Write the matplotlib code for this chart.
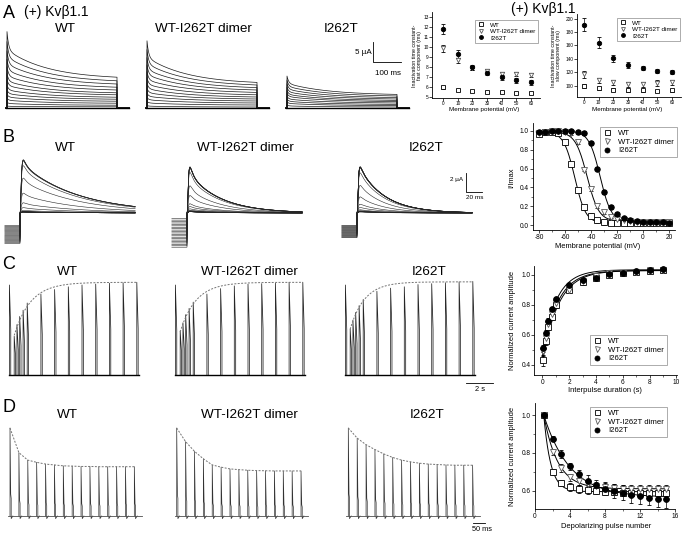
import numpy as np
import matplotlib
matplotlib.use('Agg')
import matplotlib.pyplot as plt
from matplotlib.ticker import MultipleLocator
from matplotlib.lines import Line2D

plt.rcParams['font.family'] = ['Liberation Sans', 'DejaVu Sans']
plt.rcParams['axes.unicode_minus'] = False

W, H = 685, 535
names = ['WT', 'WT-I262T dimer', 'I262T']

# ---- A: inactivation time constants with Kvb1.1
a_volt = [0, 10, 20, 30, 40, 50, 60]
a_fast = {'WT': [6.0, 5.7, 5.6, 5.5, 5.5, 5.45, 5.45],
          'WT-I262T dimer': [9.9, 8.7, 7.9, 7.6, 7.3, 7.3, 7.2],
          'I262T': [11.8, 9.3, 8.0, 7.4, 7.0, 6.7, 6.5]}
a_fast_err = {'WT': [0.15, 0.1, 0.1, 0.1, 0.1, 0.1, 0.1],
              'WT-I262T dimer': [0.35, 0.25, 0.2, 0.2, 0.2, 0.2, 0.2],
              'I262T': [0.5, 0.4, 0.25, 0.2, 0.25, 0.25, 0.25]}
a_slow = {'WT': [99, 96, 94, 93, 93, 92, 93],
          'WT-I262T dimer': [117, 108, 105, 102, 102, 104, 105],
          'I262T': [191, 164, 141, 131, 126, 122, 120]}
a_slow_err = {'WT': [3, 2, 2, 2, 2, 2, 2],
              'WT-I262T dimer': [5, 4, 4, 4, 4, 4, 4],
              'I262T': [10, 8, 5, 4, 3, 3, 3]}
# A traces: peak and end-of-pulse current for each sweep (uA)
a_peak = {'WT': [19.1, 16.6, 14.3, 12.2, 10.3, 8.6, 7.1, 5.7, 4.5, 3.4, 2.4, 1.4, 0.5],
          'WT-I262T dimer': [16.8, 14.6, 12.6, 10.8, 9.1, 7.6, 6.2, 4.9, 3.7, 2.6, 1.6, 0.6],
          'I262T': [8.0, 7.0, 6.1, 5.2, 4.4, 3.7, 2.9, 2.2, 1.5, 0.7]}
a_end = {'WT': [7.7, 6.8, 6.0, 5.2, 4.5, 3.8, 3.3, 2.7, 2.2, 1.7, 1.2, 0.7, 0.3],
         'WT-I262T dimer': [6.4, 5.75, 5.1, 4.5, 3.9, 3.3, 2.75, 2.25, 1.75, 1.25, 0.75, 0.25],
         'I262T': [3.4, 3.0, 2.6, 2.25, 1.9, 1.6, 1.25, 0.9, 0.6, 0.25]}
a_pulse = 400  # ms

# ---- B: steady-state inactivation
b_volt = [-80, -75, -70, -65, -60, -55, -50, -45, -40, -35, -30,
          -25, -20, -15, -10, -5, 0, 5, 10, 15, 20]
b_avail = {'WT': [0.97, 0.99, 0.99, 0.98, 0.88, 0.65, 0.37, 0.19, 0.10, 0.05, 0.03,
                  0.02, 0.02, 0.02, 0.02, 0.02, 0.02, 0.02, 0.02, 0.02, 0.02],
           'WT-I262T dimer': [0.98, 0.99, 1.00, 1.00, 0.99, 0.98, 0.88, 0.59, 0.38, 0.20, 0.14,
                              0.09, 0.06, 0.05, 0.04, 0.03, 0.03, 0.03, 0.03, 0.03, 0.03],
           'I262T': [0.99, 0.99, 1.00, 1.00, 1.00, 1.00, 0.99, 0.98, 0.87, 0.60, 0.35,
                     0.19, 0.12, 0.07, 0.05, 0.04, 0.03, 0.03, 0.03, 0.03, 0.02]}
b_err = {'WT': 0.025, 'WT-I262T dimer': 0.02, 'I262T': 0.02}
b_fit = {'WT': (-52.5, 4.2, 0.99, 0.02),             # V1/2, k, top, bottom
         'WT-I262T dimer': (-43.0, 4.5, 0.99, 0.04),
         'I262T': (-33.0, 4.3, 1.00, 0.03)}
# B traces: transient amplitude (uA), prepulse leak at -80 / +20 mV (uA),
# kinetics (tau act, tau fast, tau slow, slow fraction) in ms
b_amp = {'WT': 5.65, 'WT-I262T dimer': 4.85, 'I262T': 4.85}
b_leak = {'WT': (-3.2, -1.3), 'WT-I262T dimer': (-3.6, -0.6), 'I262T': (-2.6, -1.3)}
b_kin = {'WT': (1.0, 4.0, 70, 0.7), 'WT-I262T dimer': (1.0, 4.0, 40, 0.6),
         'I262T': (1.0, 3.0, 32, 0.75)}

# ---- C: recovery from inactivation
c_dur = [0.05, 0.25, 0.45, 0.7, 1, 2, 3, 4, 5, 6, 7, 8, 9]
c_amp = {'WT': [0.43, 0.56, 0.65, 0.72, 0.80, 0.90, 0.95, 0.98, 1.00, 1.01, 1.02, 1.025, 1.03],
         'WT-I262T dimer': [0.49, 0.58, 0.67, 0.74, 0.81, 0.90, 0.96, 0.99, 1.01, 1.015, 1.02, 1.03, 1.03],
         'I262T': [0.51, 0.61, 0.695, 0.77, 0.84, 0.93, 0.965, 0.98, 1.005, 1.015, 1.025, 1.035, 1.04]}
c_err = {'WT': [0.035, 0.025, 0.02, 0.02, 0.02, 0.015, 0.015, 0.01, 0.01, 0.01, 0.01, 0.01, 0.01],
         'WT-I262T dimer': [0.03, 0.02, 0.02, 0.02, 0.02, 0.015, 0.01, 0.01, 0.01, 0.01, 0.01, 0.01, 0.01],
         'I262T': [0.025, 0.02, 0.02, 0.015, 0.015, 0.01, 0.01, 0.01, 0.01, 0.01, 0.01, 0.01, 0.01]}
c_fit = {'WT': (1.03, 0.44, 1.2), 'WT-I262T dimer': (1.03, 0.48, 1.15),
         'I262T': (1.035, 0.51, 1.05)}  # plateau, start, tau (s)
c_ref = -0.3  # s, conditioning pulse

# ---- D: cumulative inactivation
d_pulse = list(range(1, 16))
d_amp = {'WT': [1.0, 0.70, 0.64, 0.62, 0.61, 0.605, 0.60, 0.595, 0.595, 0.59, 0.59, 0.59, 0.59, 0.59, 0.59],
         'WT-I262T dimer': [1.0, 0.805, 0.72, 0.67, 0.65, 0.635, 0.625, 0.62, 0.615, 0.61, 0.61, 0.61, 0.61, 0.61, 0.61],
         'I262T': [1.0, 0.876, 0.793, 0.729, 0.687, 0.651, 0.628, 0.61, 0.598, 0.588, 0.575, 0.57, 0.563, 0.558, 0.554]}
d_err = {'WT': [0, 0.015, 0.015, 0.02, 0.02, 0.02, 0.02, 0.02, 0.02, 0.02, 0.02, 0.02, 0.02, 0.02, 0.02],
         'WT-I262T dimer': [0, 0.015, 0.02, 0.02, 0.02, 0.02, 0.02, 0.02, 0.02, 0.02, 0.02, 0.02, 0.02, 0.02, 0.02],
         'I262T': [0, 0.015, 0.02, 0.02, 0.025, 0.03, 0.03, 0.035, 0.035, 0.04, 0.04, 0.04, 0.04, 0.045, 0.045]}
d_fit = {'WT': (0.595, 0.8), 'WT-I262T dimer': (0.61, 1.6), 'I262T': (0.565, 3.0)}
d_trace = {'WT': [1.0, 0.72, 0.635, 0.61, 0.59, 0.58, 0.57, 0.567, 0.563, 0.563, 0.56, 0.56, 0.56, 0.56, 0.56],
           'WT-I262T dimer': [1.0, 0.845, 0.735, 0.65, 0.58, 0.555, 0.535, 0.527, 0.52, 0.516, 0.514, 0.512, 0.512, 0.512, 0.512],
           'I262T': [1.0, 0.885, 0.81, 0.755, 0.705, 0.665, 0.635, 0.615, 0.60, 0.59, 0.585, 0.58, 0.577, 0.577, 0.577]}
d_period = 37  # ms

sty = {'WT': dict(marker='s', mfc='white', mec='k', color='k'),
       'WT-I262T dimer': dict(marker='v', mfc='white', mec='0.35', color='0.35'),
       'I262T': dict(marker='o', mfc='k', mec='k', color='k')}

fig = plt.figure(figsize=(6.85, 5.35), dpi=100)


def px_axes(l, t, r, b):
    return fig.add_axes([l / W, 1 - b / H, (r - l) / W, (b - t) / H])


def trace_axes(x0, y0, sx, sy, xr, yr):
    ax = px_axes(x0 + xr[0] * sx, y0 - yr[1] * sy, x0 + xr[1] * sx, y0 - yr[0] * sy)
    ax.set_xlim(xr)
    ax.set_ylim(yr)
    ax.axis('off')
    return ax


def ftext(x, y, s, **kw):
    fig.text(x / W, 1 - y / H, s, ha=kw.pop('ha', 'center'), va=kw.pop('va', 'center'), **kw)


def style(ax, fs, pad=1):
    for s in ['top', 'right']:
        ax.spines[s].set_visible(False)
    for s in ['left', 'bottom']:
        ax.spines[s].set_linewidth(0.6)
    ax.tick_params(labelsize=fs, width=0.5, length=2, pad=pad)
    ax.tick_params(which='minor', width=0.4, length=1.2)


def mk(n):
    return {k: v for k, v in sty[n].items() if k != 'color'}


def legend(ax, x, y, fs, ms):
    hs = [Line2D([], [], ls='none', ms=ms, mew=0.6, **mk(n)) for n in names]
    lg = ax.legend(hs, names, loc='upper left', bbox_to_anchor=(x / W, 1 - y / H),
                   bbox_transform=fig.transFigure, fontsize=fs, fancybox=False,
                   edgecolor='0.55', framealpha=1, borderpad=0.35, handlelength=1.2,
                   handletextpad=0.8, labelspacing=0.15, borderaxespad=0)
    lg.get_frame().set_linewidth(0.5)


# panel letters and titles
for lab, y in zip('ABCD', [13, 138, 265, 408]):
    ftext(9, y, lab, fontsize=13)
ftext(56, 12, '(+) Kvβ1.1', fontsize=10)
ftext(543, 9, '(+) Kvβ1.1', fontsize=10)
for y, xs in [(29, [65, 203, 341]), (148, [65, 245, 426]),
              (272, [67, 249, 429]), (415, [67, 249, 427])]:
    for n, x in zip(names, xs):
        ftext(x, y, n, fontsize=9.7)

# ---------- A traces
t = np.linspace(0, a_pulse, 600)
for n, x0 in zip(names, [7, 147, 287]):
    ax = trace_axes(x0, 108, 0.275, 4.0, (-10, 470), (-1, 21))
    g = (np.exp(-t / 150) - np.exp(-a_pulse / 150)) / (1 - np.exp(-a_pulse / 150))
    for pk, en in zip(a_peak[n], a_end[n]):
        i = en + (pk - en) * (0.4 * np.exp(-t / 6) + 0.6 * g)
        ax.plot(np.r_[-5, 0, t, a_pulse, a_pulse + 45], np.r_[0, 0, i, 0, 0],
                color='0.1', lw=0.5)
    ax.plot([-5, a_pulse + 45], [0, 0], color='k', lw=1.0)
ax.plot([313, 313, 413], [16.5, 11.5, 11.5], color='k', lw=0.6, clip_on=False)
ax.text(308, 14, '5 µA', ha='right', va='center', fontsize=5.8)
ax.text(366, 9.5, '100 ms', ha='center', va='top', fontsize=5.8)

# ---------- A plots
for key, data, err, box, yl, ticks, lab, lgpos in [
        ('fast', a_fast, a_fast_err, (432, 12, 540, 98), (4.95, 13.5), 1,
         'Inactivation time constant-\nfast component (ms)', (475, 20)),
        ('slow', a_slow, a_slow_err, (577, 14, 681, 97), (83, 207), 20,
         'Inactivation time constant-\nslow component (ms)', (617, 18))]:
    ax = px_axes(*box)
    for n in names:
        ax.errorbar(a_volt, data[n], yerr=err[n], ls='none', ms=3.2, mew=0.6,
                    elinewidth=0.5, capsize=1.2, capthick=0.5, ecolor='k', **mk(n))
    ax.set_xlim(-7.5 if key == 'fast' else -4.7, 66)
    ax.set_ylim(yl)
    ax.xaxis.set_major_locator(MultipleLocator(10))
    ax.yaxis.set_major_locator(MultipleLocator(ticks))
    style(ax, 3.4, pad=0.5)
    legend(ax, lgpos[0], lgpos[1], 4.6, 2.8)
    cx = (box[0] + box[2]) / 2
    ftext(cx - 2, 110, 'Membrane potential (mV)', fontsize=4.5)
    ftext(box[0] - 15 if key == 'fast' else box[0] - 21, 56, lab, fontsize=3.8,
          rotation=90, linespacing=1.1)

# ---------- B traces
tb = np.linspace(0, 144, 600)
for n, x0 in zip(names, [20, 187, 357]):
    ax = trace_axes(x0, 213, 0.8, 9.5, (-22, 150), (-4.5, 6.5))
    ta, tf, ts, fs_ = b_kin[n]
    shape = (1 - np.exp(-tb / ta)) ** 3 * ((1 - fs_) * np.exp(-tb / tf) + fs_ * np.exp(-tb / ts))
    shape = shape / shape.max()
    lo, hi = b_leak[n]
    for v, av in zip(b_volt, b_avail[n]):
        pre = lo + (hi - lo) * (v + 80) / 100
        ax.plot(np.r_[-19, 0, tb], np.r_[pre, pre, b_amp[n] * av * shape],
                color='0.15', lw=0.4)
ax.plot([136, 136, 156], [4.2, 2.2, 2.2], color='k', lw=0.6, clip_on=False)
ax.text(133, 3.5, '2 µA', ha='right', va='center', fontsize=4.6)
ax.text(147, 1.9, '20 ms', ha='center', va='top', fontsize=4.6)

# ---------- B plot
ax = px_axes(533, 123, 675, 230)
vv = np.linspace(-82, 22, 300)
for n in names:
    v5, k, top, bot = b_fit[n]
    ax.plot(vv, bot + (top - bot) / (1 + np.exp((vv - v5) / k)), color='k', lw=0.7)
    ax.errorbar(b_volt, b_avail[n], yerr=b_err[n], ls='none', ms=4, mew=0.6,
                elinewidth=0.5, capsize=1.5, capthick=0.5, ecolor='k', **mk(n))
ax.set_xlim(-84.6, 24.6)
ax.set_ylim(-0.053, 1.085)
ax.xaxis.set_major_locator(MultipleLocator(20))
ax.xaxis.set_minor_locator(MultipleLocator(10))
ax.yaxis.set_major_locator(MultipleLocator(0.2))
ax.yaxis.set_minor_locator(MultipleLocator(0.1))
ax.yaxis.set_major_formatter(plt.FormatStrFormatter('%.1f'))
style(ax, 4.7)
legend(ax, 600, 127, 5.6, 3.6)
ftext(598, 247, 'Membrane potential (mV)', fontsize=5.4)
ftext(512, 178, 'I/Imax', fontsize=5.4, rotation=90)

# ---------- C traces
w = 0.1
for n, x0 in zip(names, [13.5, 179.5, 349.5]):
    ax = trace_axes(x0, 375, 13.7, 90, (-0.6, 9.6), (-0.03, 1.1))
    for tt, a in zip([c_ref] + c_dur, [1.0] + c_amp[n]):
        ax.plot([tt, tt, tt + w, tt + w], [0, a, 0.5 * a, 0], color='0.15', lw=0.55)
    ax.plot([c_ref - 0.05, c_dur[-1] + 0.15], [0, 0], color='k', lw=1.0)
    pl, st, tau = c_fit[n]
    tt = np.linspace(c_dur[0], c_dur[-1], 200)
    ax.plot(tt, pl - (pl - st) * np.exp(-(tt - c_dur[0]) / tau), color='0.45',
            lw=0.7, ls=(0, (2, 1.5)))
ax.plot([8.5, 10.5], [-0.09, -0.09], color='k', lw=0.6, clip_on=False)
ax.text(9.5, -0.12, '2 s', ha='center', va='top', fontsize=5.4)

# ---------- C plot
ax = px_axes(534, 266, 677, 375)
tt = np.linspace(0, 9.2, 300)
for n in names:
    pl, st, tau = c_fit[n]
    ax.plot(tt, pl - (pl - st) * np.exp(-(tt - c_dur[0]) / tau), color='k', lw=0.7)
    ax.errorbar(c_dur, c_amp[n], yerr=c_err[n], ls='none', ms=4.2, mew=0.6,
                elinewidth=0.5, capsize=1.5, capthick=0.5, ecolor='k', **mk(n))
ax.set_xlim(-0.62, 10.05)
ax.set_ylim(0.333, 1.06)
ax.xaxis.set_major_locator(MultipleLocator(2))
ax.xaxis.set_minor_locator(MultipleLocator(1))
ax.yaxis.set_major_locator(MultipleLocator(0.2))
ax.yaxis.set_minor_locator(MultipleLocator(0.1))
ax.yaxis.set_major_formatter(plt.FormatStrFormatter('%.1f'))
style(ax, 4.7, pad=0.6)
legend(ax, 590, 335, 5.6, 3.6)
ftext(605, 390, 'Interpulse duration (s)', fontsize=5.4)
ftext(513, 320, 'Normalized current amplitude', fontsize=5.4, rotation=90)

# ---------- D traces
for n, x0 in zip(names, [10, 176.7, 348.3]):
    ax = trace_axes(x0, 516, 0.24, 88, (-30, 580), (-0.1, 1.1))
    tp = [k * d_period for k in range(len(d_trace[n]))]
    for tk, p in zip(tp, d_trace[n]):
        ax.plot([tk, tk, tk + 3, tk + 5, tk + 5, tk + 12],
                [0, p, 0.25 * p, 0.2 * p, -0.03, 0], color='0.2', lw=0.5)
    ax.plot([tp[0] - 8, tp[-1] + 30], [0, 0], color='0.3', lw=0.6)
    ax.plot(tp, d_trace[n], color='0.45', lw=0.7, ls=(0, (2, 1.5)))
ax.plot([520, 570], [-0.08, -0.08], color='k', lw=0.6, clip_on=False)
ax.text(557, -0.11, '50 ms', ha='center', va='top', fontsize=5.3)

# ---------- D plot
ax = px_axes(535, 403, 675, 509)
nn = np.linspace(1, 15, 300)
for n in names:
    yi, tau = d_fit[n]
    ax.plot(nn, yi + (1 - yi) * np.exp(-(nn - 1) / tau), color='k', lw=0.7)
    ax.errorbar(d_pulse, d_amp[n], yerr=d_err[n], ls='none', ms=4.2, mew=0.6,
                elinewidth=0.5, capsize=1.5, capthick=0.5, ecolor='k', **mk(n))
ax.set_xlim(0, 16)
ax.set_ylim(0.503, 1.064)
ax.xaxis.set_major_locator(MultipleLocator(4))
ax.xaxis.set_minor_locator(MultipleLocator(2))
ax.yaxis.set_major_locator(MultipleLocator(0.2))
ax.yaxis.set_minor_locator(MultipleLocator(0.1))
ax.yaxis.set_major_formatter(plt.FormatStrFormatter('%.1f'))
style(ax, 4.7)
legend(ax, 590, 407, 5.6, 3.6)
ftext(606, 527, 'Depolarizing pulse number', fontsize=5.4)
ftext(513, 456, 'Normalized current amplitude', fontsize=5.4, rotation=90)

fig.savefig('out.png', dpi=100)
